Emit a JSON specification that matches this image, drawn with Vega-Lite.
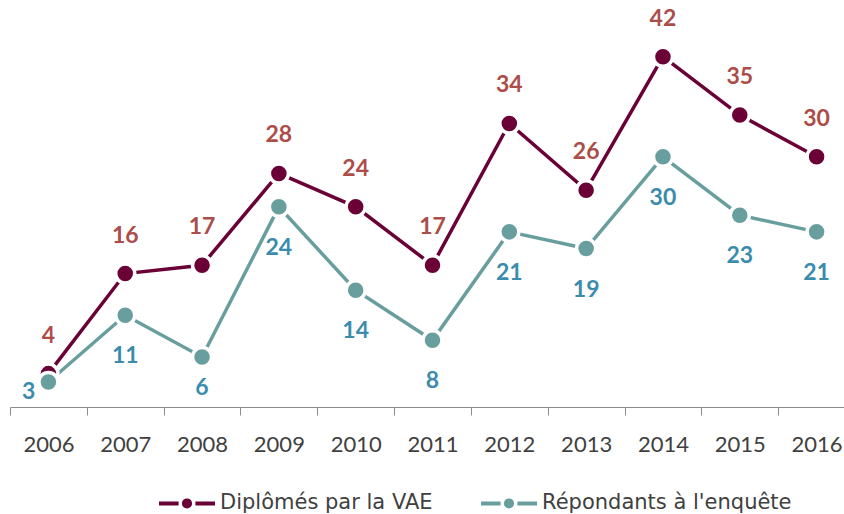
{
  "$schema": "https://vega.github.io/schema/vega-lite/v6.json",
  "width": 845,
  "height": 407,
  "autosize": {"type": "none"},
  "padding": {"left": 10, "top": 0, "right": 0, "bottom": 107},
  "background": "white",
  "config": {"view": {"stroke": null}, "font": "Lato"},
  "data": {
    "values": [
      {"year": "2006", "series": "Diplômés par la VAE", "value": 4},
      {"year": "2007", "series": "Diplômés par la VAE", "value": 16},
      {"year": "2008", "series": "Diplômés par la VAE", "value": 17},
      {"year": "2009", "series": "Diplômés par la VAE", "value": 28},
      {"year": "2010", "series": "Diplômés par la VAE", "value": 24},
      {"year": "2011", "series": "Diplômés par la VAE", "value": 17},
      {"year": "2012", "series": "Diplômés par la VAE", "value": 34},
      {"year": "2013", "series": "Diplômés par la VAE", "value": 26},
      {"year": "2014", "series": "Diplômés par la VAE", "value": 42},
      {"year": "2015", "series": "Diplômés par la VAE", "value": 35},
      {"year": "2016", "series": "Diplômés par la VAE", "value": 30},
      {"year": "2006", "series": "Répondants à l'enquête", "value": 3},
      {"year": "2007", "series": "Répondants à l'enquête", "value": 11},
      {"year": "2008", "series": "Répondants à l'enquête", "value": 6},
      {"year": "2009", "series": "Répondants à l'enquête", "value": 24},
      {"year": "2010", "series": "Répondants à l'enquête", "value": 14},
      {"year": "2011", "series": "Répondants à l'enquête", "value": 8},
      {"year": "2012", "series": "Répondants à l'enquête", "value": 21},
      {"year": "2013", "series": "Répondants à l'enquête", "value": 19},
      {"year": "2014", "series": "Répondants à l'enquête", "value": 30},
      {"year": "2015", "series": "Répondants à l'enquête", "value": 23},
      {"year": "2016", "series": "Répondants à l'enquête", "value": 21}
    ]
  },
  "encoding": {
    "x": {
      "field": "year",
      "type": "ordinal",
      "scale": {"type": "band", "paddingInner": 0, "paddingOuter": 0},
      "axis": {
        "title": null,
        "labelAngle": 0,
        "tickBand": "extent",
        "domainColor": "#8c8c8c",
        "tickColor": "#8c8c8c",
        "domainWidth": 1,
        "tickWidth": 1,
        "tickSize": 8,
        "labelFont": "Lato",
        "labelFontSize": 22,
        "labelColor": "#404040",
        "labelPadding": 19,
        "grid": false
      }
    },
    "y": {
      "field": "value",
      "type": "quantitative",
      "scale": {"domain": [0, 48.8], "nice": false, "zero": true},
      "axis": null
    }
  },
  "layer": [
    {
      "mark": {"type": "line", "strokeWidth": 3.5},
      "encoding": {
        "color": {
          "field": "series",
          "type": "nominal",
          "scale": {
            "domain": ["Diplômés par la VAE", "Répondants à l'enquête"],
            "range": ["#6b0036", "#689e9d"]
          },
          "legend": {
            "orient": "none",
            "legendX": 147,
            "legendY": 473,
            "direction": "horizontal",
            "title": null,
            "symbolType": "M-1,0H-0.3M0.3,0H1M-0.11,0A0.11,0.11,0,1,1,0.11,0A0.11,0.11,0,1,1,-0.11,0Z",
            "symbolSize": 3136,
            "symbolStrokeWidth": 4,
            "labelFont": "DejaVu Sans",
            "labelFontSize": 21,
            "labelColor": "#404040",
            "labelOffset": 3,
            "labelLimit": 500,
            "columnPadding": 40,
            "encode": {
              "symbols": {
                "update": {
                  "fill": {"scale": "color", "field": "value"},
                  "stroke": {"scale": "color", "field": "value"}
                }
              }
            }
          }
        }
      }
    },
    {
      "mark": {"type": "point", "filled": true, "size": 363, "stroke": "white", "strokeWidth": 3.5, "opacity": 1},
      "encoding": {
        "color": {"field": "series", "type": "nominal"}
      }
    },
    {
      "transform": [{"filter": {"field": "series", "equal": "Diplômés par la VAE"}}],
      "mark": {"type": "text", "dy": -38, "baseline": "middle", "align": "center", "font": "Lato", "fontWeight": "bold", "fontSize": 23, "color": "#ad4d49"},
      "encoding": {"text": {"field": "value", "type": "quantitative"}}
    },
    {
      "transform": [{"filter": {"and": [{"field": "series", "equal": "Répondants à l'enquête"}, {"not": {"field": "year", "oneOf": ["2006", "2008"]}}]}}],
      "mark": {"type": "text", "dy": 41, "baseline": "middle", "align": "center", "font": "Lato", "fontWeight": "bold", "fontSize": 23, "color": "#3b8cac"},
      "encoding": {"text": {"field": "value", "type": "quantitative"}}
    },
    {
      "transform": [{"filter": {"and": [{"field": "series", "equal": "Répondants à l'enquête"}, {"field": "year", "equal": "2008"}]}}],
      "mark": {"type": "text", "dy": 31, "baseline": "middle", "align": "center", "font": "Lato", "fontWeight": "bold", "fontSize": 23, "color": "#3b8cac"},
      "encoding": {"text": {"field": "value", "type": "quantitative"}}
    },
    {
      "transform": [{"filter": {"and": [{"field": "series", "equal": "Répondants à l'enquête"}, {"field": "year", "equal": "2006"}]}}],
      "mark": {"type": "text", "dx": -13, "dy": 10, "baseline": "middle", "align": "right", "font": "Lato", "fontWeight": "bold", "fontSize": 23, "color": "#3b8cac"},
      "encoding": {"text": {"field": "value", "type": "quantitative"}}
    }
  ]
}
